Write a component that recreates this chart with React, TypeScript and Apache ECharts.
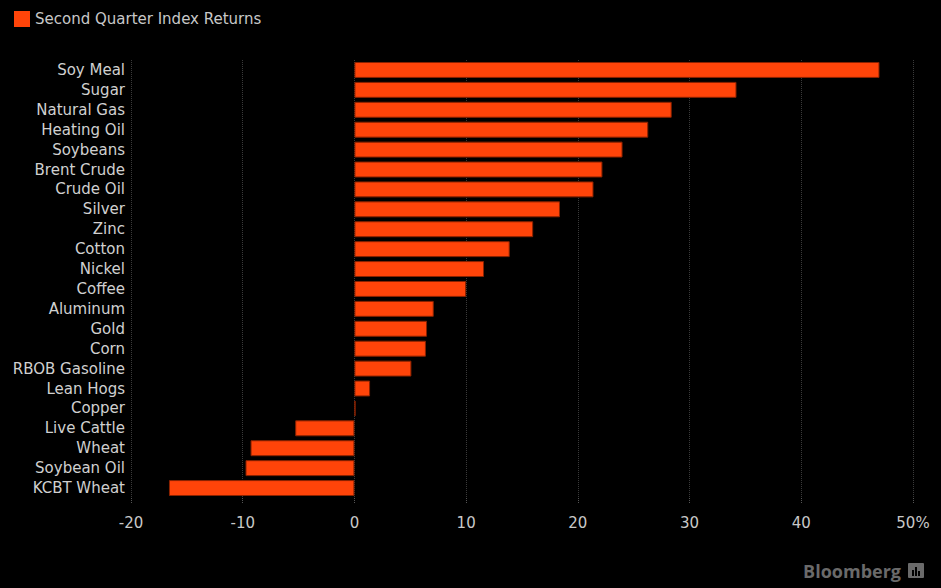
import React, { useEffect, useRef } from "react";
import * as echarts from "echarts";

const categories = [
  "Soy Meal", "Sugar", "Natural Gas", "Heating Oil", "Soybeans", "Brent Crude",
  "Crude Oil", "Silver", "Zinc", "Cotton", "Nickel", "Coffee", "Aluminum",
  "Gold", "Corn", "RBOB Gasoline", "Lean Hogs", "Copper", "Live Cattle",
  "Wheat", "Soybean Oil", "KCBT Wheat",
];
const returns = [
  47.0, 34.2, 28.4, 26.3, 24.0, 22.2, 21.4, 18.4, 16.0, 13.9, 11.6, 10.0, 7.1,
  6.5, 6.4, 5.1, 1.4, 0.1, -5.3, -9.3, -9.75, -16.6,
];
const seriesName = "Second Quarter Index Returns";
const xMin = -20;
const xMax = 50;
const xStep = 10;

const FONT = "'DejaVu Sans', 'Liberation Sans', sans-serif";

export default function App() {
  const ref = useRef<HTMLDivElement>(null);
  useEffect(() => {
    if (!ref.current) return;
    const chart = echarts.init(ref.current, null, { renderer: "svg" });
    chart.setOption({
      animation: false,
      backgroundColor: "#000000",
      textStyle: { fontFamily: FONT },
      legend: {
        show: true,
        left: 14,
        top: 11,
        padding: 0,
        itemWidth: 16,
        itemHeight: 16,
        itemGap: 5,
        icon: "rect",
        data: [seriesName],
        itemStyle: { color: "#ff4409", borderWidth: 0 },
        textStyle: { color: "#c8c8c8", fontSize: 15, fontFamily: FONT },
      },
      grid: { left: 131, right: 28, top: 60, bottom: 90 },
      xAxis: {
        type: "value",
        min: xMin,
        max: xMax,
        interval: xStep,
        axisLine: { show: false },
        axisTick: {
          show: true,
          length: 6,
          lineStyle: { color: "#555", type: "dotted" },
        },
        splitLine: {
          show: true,
          lineStyle: { color: "#3a3a3a", type: "dotted", width: 1 },
        },
        axisLabel: {
          color: "#c8c8c8",
          fontSize: 15,
          margin: 17,
          fontFamily: FONT,
          formatter: (v: number) => (v === xMax ? v + "%" : String(v)),
        },
      },
      yAxis: {
        type: "category",
        inverse: true,
        data: categories,
        axisLine: { show: false },
        axisTick: { show: false },
        axisLabel: {
          color: "#d0d0d0",
          fontSize: 15,
          margin: 6,
          fontFamily: FONT,
        },
      },
      series: [
        {
          name: seriesName,
          type: "bar",
          data: returns,
          barCategoryGap: "20%",
          itemStyle: {
            color: "#ff4409",
            borderColor: "#8a2200",
            borderWidth: 1,
          },
        },
      ],
      graphic: [
        {
          type: "text",
          right: 40,
          bottom: 8,
          style: {
            text: "Bloomberg",
            fill: "#6a6a6a",
            font: "bold 18px 'Open Sans', 'DejaVu Sans', sans-serif",
          },
        },
        {
          type: "group",
          right: 17,
          bottom: 10,
          children: [
            { type: "rect", shape: { x: 0, y: 0, width: 16, height: 15, r: 1 }, style: { fill: "#6a6a6a" } },
            { type: "rect", shape: { x: 4, y: 7, width: 2, height: 6 }, style: { fill: "#000" } },
            { type: "rect", shape: { x: 7, y: 4, width: 2, height: 9 }, style: { fill: "#000" } },
            { type: "rect", shape: { x: 10, y: 8, width: 2, height: 5 }, style: { fill: "#000" } },
          ],
        },
      ],
    });
    return () => chart.dispose();
  }, []);
  return (
    <div
      ref={ref}
      style={{ position: "fixed", left: 0, top: 0, width: 941, height: 588, background: "#000" }}
    />
  );
}
